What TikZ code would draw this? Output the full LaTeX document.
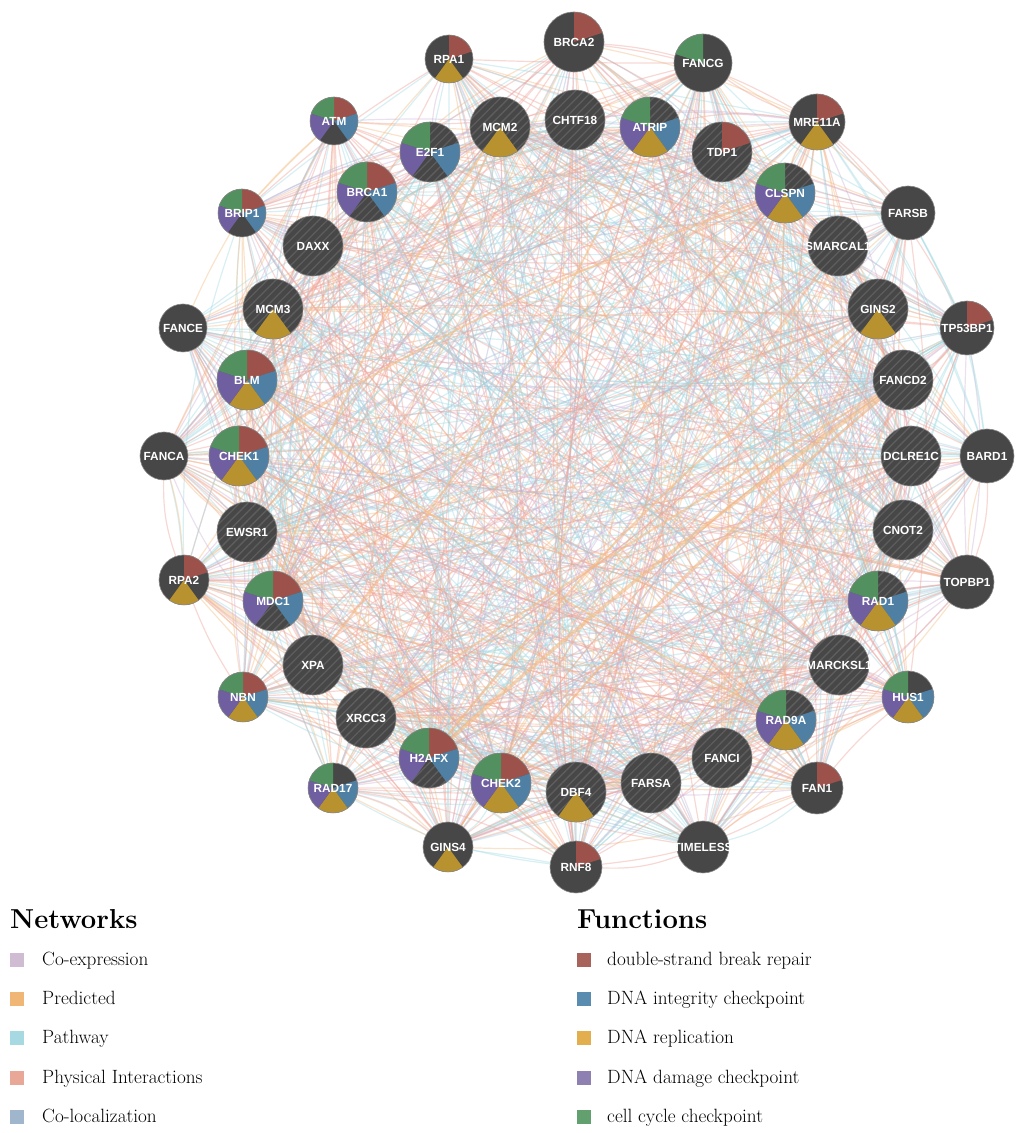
\documentclass[tikz,border=0pt]{standalone}
\usepackage{fontspec}
\newfontfamily\lab{Liberation Sans}
\usetikzlibrary{backgrounds,patterns.meta}
\definecolor{nodec}{HTML}{474747}
\definecolor{hatchc}{HTML}{5E5E5E}
\definecolor{nodeedge}{HTML}{8A8A8A}
\definecolor{fc0}{HTML}{9C524B}
\definecolor{fc1}{HTML}{4F80A3}
\definecolor{fc2}{HTML}{B8922F}
\definecolor{fc3}{HTML}{705FA0}
\definecolor{fc4}{HTML}{52915F}
\definecolor{lf0}{HTML}{A8645A}
\definecolor{lf1}{HTML}{5A8CB0}
\definecolor{lf2}{HTML}{E3AE4E}
\definecolor{lf3}{HTML}{8E80B0}
\definecolor{lf4}{HTML}{62A070}
\definecolor{ecoe}{HTML}{D0B4D6}
\definecolor{epre}{HTML}{F3BC84}
\definecolor{epat}{HTML}{A2D9E2}
\definecolor{ephy}{HTML}{EEA398}
\definecolor{ecol}{HTML}{A2B8D2}
\definecolor{lcoe}{HTML}{CFBCD3}
\definecolor{lpre}{HTML}{EFB676}
\definecolor{lpat}{HTML}{A6D9E1}
\definecolor{lphy}{HTML}{E9A797}
\definecolor{lcol}{HTML}{A0B6CC}
\tikzset{
  genebase/.style={circle, inner sep=0pt, outer sep=0pt, fill=nodec, draw=nodeedge,
    line width=0.6pt, text=white, font={\lab\bfseries\fontsize{11.8}{13}\selectfont}},
  edge/.style={line width=1.2pt, draw opacity=0.42},
  thickedge/.style={draw=epre, draw opacity=0.6},
  legtitle/.style={anchor=base west, inner sep=0pt, font={\bfseries\fontsize{27.4}{32}\selectfont}},
  legitem/.style={anchor=base west, inner sep=0pt, font={\fontsize{19.2}{22}\selectfont}}
}
\newcommand\gene[7]{%
  \node[genebase, minimum size={2*#4pt}, path picture={
    \ifnum#7=1
      \fill[pattern={Lines[angle=45,distance=6pt,line width=1.3pt]}, pattern color=hatchc]
        (path picture bounding box.south west) rectangle (path picture bounding box.north east);
    \fi
    \pgfmathsetmacro\rr{#4+3}
    \foreach \w in {#6}{%
      \ifnum\w<5
        \pgfmathsetmacro\sa{90-72*\w}
        \pgfmathsetmacro\ea{18-72*\w}
        \fill[fc\w] (path picture bounding box.center) -- ++(\sa:\rr pt)
          arc[start angle=\sa, end angle=\ea, radius=\rr pt] -- cycle;
      \fi}
  }] (n#1) at (#2,{1133-#3}) {\smash{\makebox[0pt]{\raisebox{-4.2pt}{#5}}}};}
\begin{document}
\begin{tikzpicture}[x=1pt,y=1pt]
\useasboundingbox (0,0) rectangle (1020,1133);
% outer ring
\gene{1}{449}{59}{24}{RPA1}{0,2}{0}
\gene{2}{574}{42}{30}{BRCA2}{0}{0}
\gene{3}{703}{63}{29}{FANCG}{4}{0}
\gene{4}{817}{122}{28}{MRE11A}{0,2}{0}
\gene{5}{908}{213}{27}{FARSB}{9}{0}
\gene{6}{967}{328}{27}{TP53BP1}{0}{0}
\gene{7}{987}{456}{27}{BARD1}{9}{0}
\gene{8}{967}{582}{27}{TOPBP1}{9}{0}
\gene{9}{908}{697}{26}{HUS1}{1,2,3,4}{0}
\gene{10}{817}{788}{26}{FAN1}{0}{0}
\gene{11}{703}{847}{26}{TIMELESS}{9}{0}
\gene{12}{576}{867}{26}{RNF8}{0}{0}
\gene{13}{448}{847}{25}{GINS4}{2}{0}
\gene{14}{333}{788}{25}{RAD17}{1,2,3,4}{0}
\gene{15}{243}{697}{25}{NBN}{0,1,2,3,4}{0}
\gene{16}{184}{580}{25}{RPA2}{0,2}{0}
\gene{17}{164}{456}{24}{FANCA}{9}{0}
\gene{18}{183}{328}{24}{FANCE}{9}{0}
\gene{19}{242}{213}{24}{BRIP1}{0,1,3,4}{0}
\gene{20}{334}{121}{24}{ATM}{0,1,3,4}{0}
% inner ring
\gene{21}{500}{127}{30}{MCM2}{2}{1}
\gene{22}{575}{120}{30}{CHTF18}{9}{1}
\gene{23}{650}{127}{30}{ATRIP}{1,2,3,4}{1}
\gene{24}{722}{152}{30}{TDP1}{0}{1}
\gene{25}{785}{193}{30}{CLSPN}{1,2,3,4}{1}
\gene{26}{838}{246}{30}{SMARCAL1}{9}{1}
\gene{27}{878}{309}{30}{GINS2}{2}{1}
\gene{28}{903}{380}{30}{FANCD2}{9}{1}
\gene{29}{911}{456}{30}{DCLRE1C}{9}{1}
\gene{30}{903}{530}{30}{CNOT2}{9}{1}
\gene{31}{878}{601}{30}{RAD1}{1,2,3,4}{1}
\gene{32}{839}{665}{30}{MARCKSL1}{9}{1}
\gene{33}{786}{720}{30}{RAD9A}{1,2,3,4}{1}
\gene{34}{722}{758}{30}{FANCI}{9}{1}
\gene{35}{651}{783}{30}{FARSA}{9}{1}
\gene{36}{576}{792}{30}{DBF4}{2}{1}
\gene{37}{501}{783}{30}{CHEK2}{0,1,2,3,4}{1}
\gene{38}{429}{758}{30}{H2AFX}{0,1,3,4}{1}
\gene{39}{366}{718}{30}{XRCC3}{9}{1}
\gene{40}{313}{665}{30}{XPA}{9}{1}
\gene{41}{273}{601}{30}{MDC1}{0,1,3,4}{1}
\gene{42}{247}{532}{30}{EWSR1}{9}{1}
\gene{43}{239}{456}{30}{CHEK1}{0,1,2,3,4}{1}
\gene{44}{247}{380}{30}{BLM}{0,1,2,3,4}{1}
\gene{45}{273}{309}{30}{MCM3}{2}{1}
\gene{46}{313}{246}{30}{DAXX}{9}{1}
\gene{47}{367}{192}{30}{BRCA1}{0,1,3,4}{1}
\gene{48}{430}{152}{30}{E2F1}{1,3,4}{1}
% edges
\begin{scope}[on background layer]
\pgfmathsetseed{4242}
\foreach \k in {1,...,1150}{%
  \pgfmathtruncatemacro\ea{random(1,48)}%
  \pgfmathtruncatemacro\eb{random(1,48)}%
  \pgfmathtruncatemacro\ec{random(0,19)}%
  \pgfmathtruncatemacro\bb{random(0,24)-12}%
  \pgfmathsetmacro\ecl{{"ephy","ephy","ephy","ephy","ephy","ephy","ephy","epat","epat","epat","epat","epat","epat","ecoe","ecoe","ecoe","epre","epre","epre","ecol"}[\ec]}%
  \ifnum\ea=\eb\else
    \draw[edge, draw=\ecl] (n\ea) to[bend left=\bb] (n\eb);
  \fi}
\draw[thickedge, line width=3.5pt] (n38) to[bend left=3] (n28);
\draw[thickedge, line width=2pt] (n38) to[bend left=6] (n27);
\draw[thickedge, line width=2pt] (n39) to[bend left=2] (n28);
\draw[thickedge, line width=2pt] (n37) to[bend left=5] (n28);
\draw[thickedge, line width=1.8pt] (n41) to[bend left=8] (n21);
\draw[thickedge, line width=1.8pt] (n40) to[bend right=6] (n23);
\draw[thickedge, line width=1.8pt] (n44) to[bend right=5] (n33);
\draw[thickedge, line width=1.8pt] (n43) to[bend left=6] (n25);
\end{scope}
% legend: networks
\node[legtitle] (nettitle) at (10,{1133-929}) {Networks};
\fill[lcoe] (10,{1133-953}) rectangle (24,{1133-967});
\fill[lpre] (10,{1133-992}) rectangle (24,{1133-1006});
\fill[lpat] (10,{1133-1031}) rectangle (24,{1133-1045});
\fill[lphy] (10,{1133-1071}) rectangle (24,{1133-1085});
\fill[lcol] (10,{1133-1110}) rectangle (24,{1133-1124});
\node[legitem] (l1) at (42,{1133-966}) {Co-expression};
\node[legitem] (l2) at (42,{1133-1005}) {Predicted};
\node[legitem] (l3) at (42,{1133-1044}) {Pathway};
\node[legitem] (l4) at (42,{1133-1084}) {Physical Interactions};
\node[legitem] (l5) at (42,{1133-1123}) {Co-localization};
% legend: functions
\node[legtitle] (funtitle) at (577,{1133-929}) {Functions};
\fill[lf0] (577,{1133-953}) rectangle (591,{1133-967});
\fill[lf1] (577,{1133-992}) rectangle (591,{1133-1006});
\fill[lf2] (577,{1133-1031}) rectangle (591,{1133-1045});
\fill[lf3] (577,{1133-1071}) rectangle (591,{1133-1085});
\fill[lf4] (577,{1133-1110}) rectangle (591,{1133-1124});
\node[legitem] (f1) at (607,{1133-966}) {double-strand break repair};
\node[legitem] (f2) at (607,{1133-1005}) {DNA integrity checkpoint};
\node[legitem] (f3) at (607,{1133-1044}) {DNA replication};
\node[legitem] (f4) at (607,{1133-1084}) {DNA damage checkpoint};
\node[legitem] (f5) at (607,{1133-1123}) {cell cycle checkpoint};
\end{tikzpicture}
\end{document}
